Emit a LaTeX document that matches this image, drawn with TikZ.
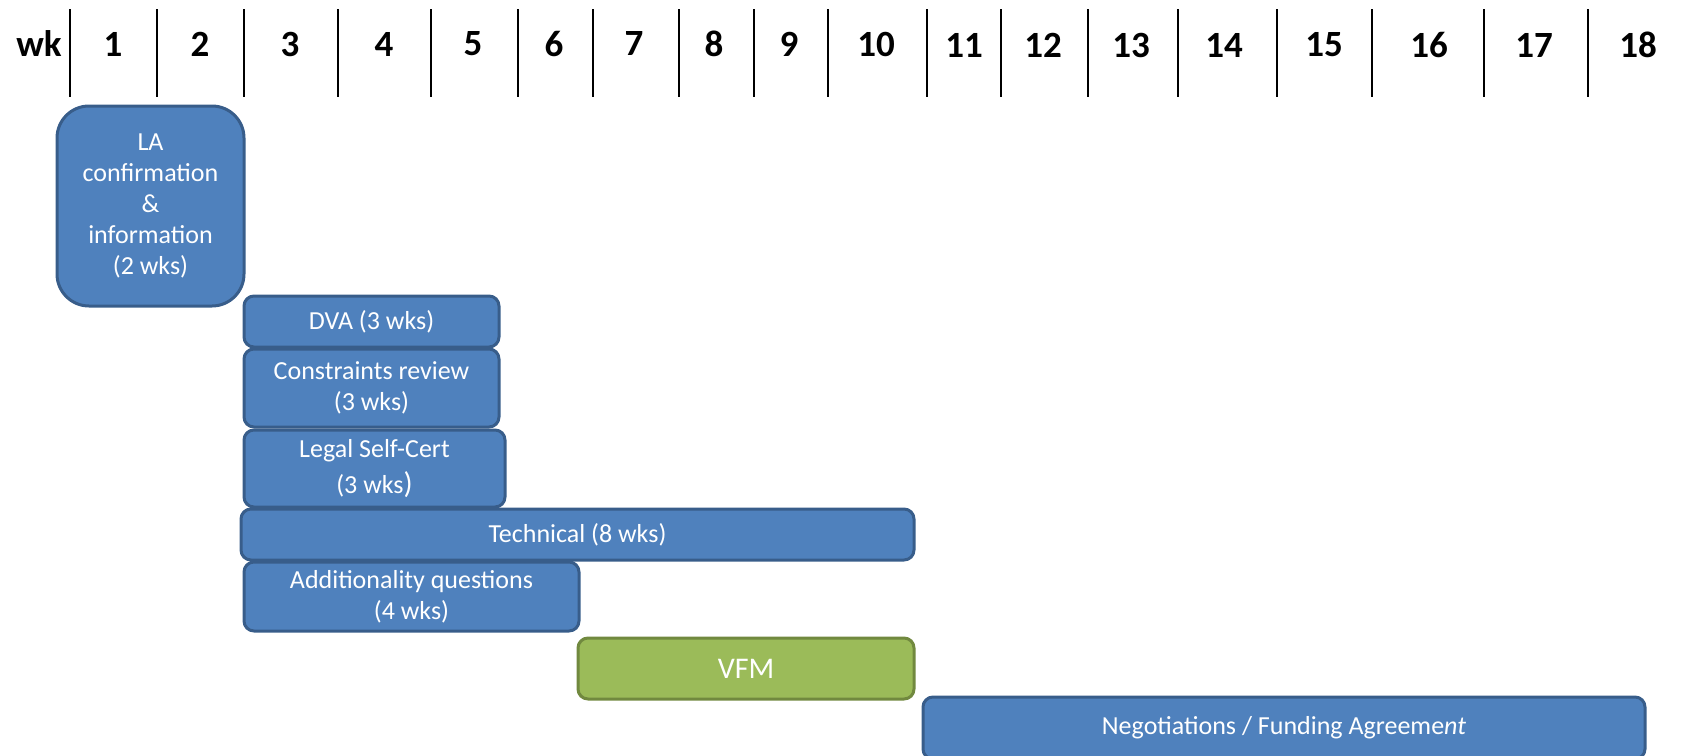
\documentclass[tikz,border=0pt]{standalone}
\usepackage{fontspec}
\setmainfont{Carlito}
\definecolor{barblue}{HTML}{4F81BD}
\definecolor{barblueedge}{HTML}{385D8A}
\definecolor{bargreen}{HTML}{9BBB59}
\definecolor{bargreenedge}{HTML}{71893F}
\tikzset{
  bar/.style={draw=barblueedge, fill=barblue, line width=3pt, rounded corners=10pt,
    text=white, align=center, inner sep=0pt, font=\fontsize{26}{31}\selectfont},
  greenbar/.style={bar, draw=bargreenedge, fill=bargreen, font=\fontsize{30}{36}\selectfont},
  wkhead/.style={font=\fontsize{37}{40}\selectfont\bfseries, inner sep=0pt},
  wkline/.style={line width=2pt, black}
}
\begin{document}
\begin{tikzpicture}[x=1pt,y=-1pt]
\useasboundingbox (0,0) rectangle (1684,755);
% header separators
\foreach \xx in {70,157,244,338,431,518,593,679,754,828,927,1001,1088,1178,1277,1372,1484,1588}
  \draw[wkline] (\xx,9) -- (\xx,97);
% header labels
\node[wkhead] (wk) at (39,44) {wk};
\node[wkhead] (w1) at (113,44) {1};
\node[wkhead] (w2) at (200,44) {2};
\node[wkhead] (w3) at (290,44) {3};
\node[wkhead] (w4) at (384,44) {4};
\node[wkhead] (w5) at (473,44) {5};
\node[wkhead] (w6) at (554,44) {6};
\node[wkhead] (w7) at (634,44) {7};
\node[wkhead] (w8) at (714,44) {8};
\node[wkhead] (w9) at (789,44) {9};
\node[wkhead] (w10) at (876,44) {10};
\node[wkhead] (w11) at (964,45) {11};
\node[wkhead] (w12) at (1043,45) {12};
\node[wkhead] (w13) at (1131,45) {13};
\node[wkhead] (w14) at (1224,45) {14};
\node[wkhead] (w15) at (1324,45) {15};
\node[wkhead] (w16) at (1429,45) {16};
\node[wkhead] (w17) at (1534,45) {17};
\node[wkhead] (w18) at (1638,45) {18};
% bars
\node[bar, rounded corners=32pt, minimum width=187pt, minimum height=200pt] (la) at (150.5,206)
  {LA\\confirmation\\\&\\information\\(2 wks)};
\node[bar, minimum width=255pt, minimum height=51pt] (dva) at (371.5,321.5) {DVA (3 wks)};
\node[bar, minimum width=255pt, minimum height=78pt] (cons) at (371.5,388) {Constraints review\\(3 wks)};
\node[bar, minimum width=261pt, minimum height=77pt, font=\fontsize{26}{36}\selectfont] (legal) at (374.5,468.5)
  {Legal Self-Cert\\(3 wks{\fontsize{30}{36}\selectfont)}};
\node[bar, minimum width=673pt, minimum height=51pt] (tech) at (577.5,534.5) {Technical (8 wks)};
\node[bar, minimum width=335pt, minimum height=69pt] (addq) at (411.5,596.5) {Additionality questions\\(4 wks)};
\node[greenbar, minimum width=336pt, minimum height=61pt] (vfm) at (746,668.5) {VFM};
\node[bar, minimum width=722pt, minimum height=62pt] (neg) at (1284,728) {Negotiations / Funding Agreeme\textit{nt}};
\end{tikzpicture}
\end{document}
